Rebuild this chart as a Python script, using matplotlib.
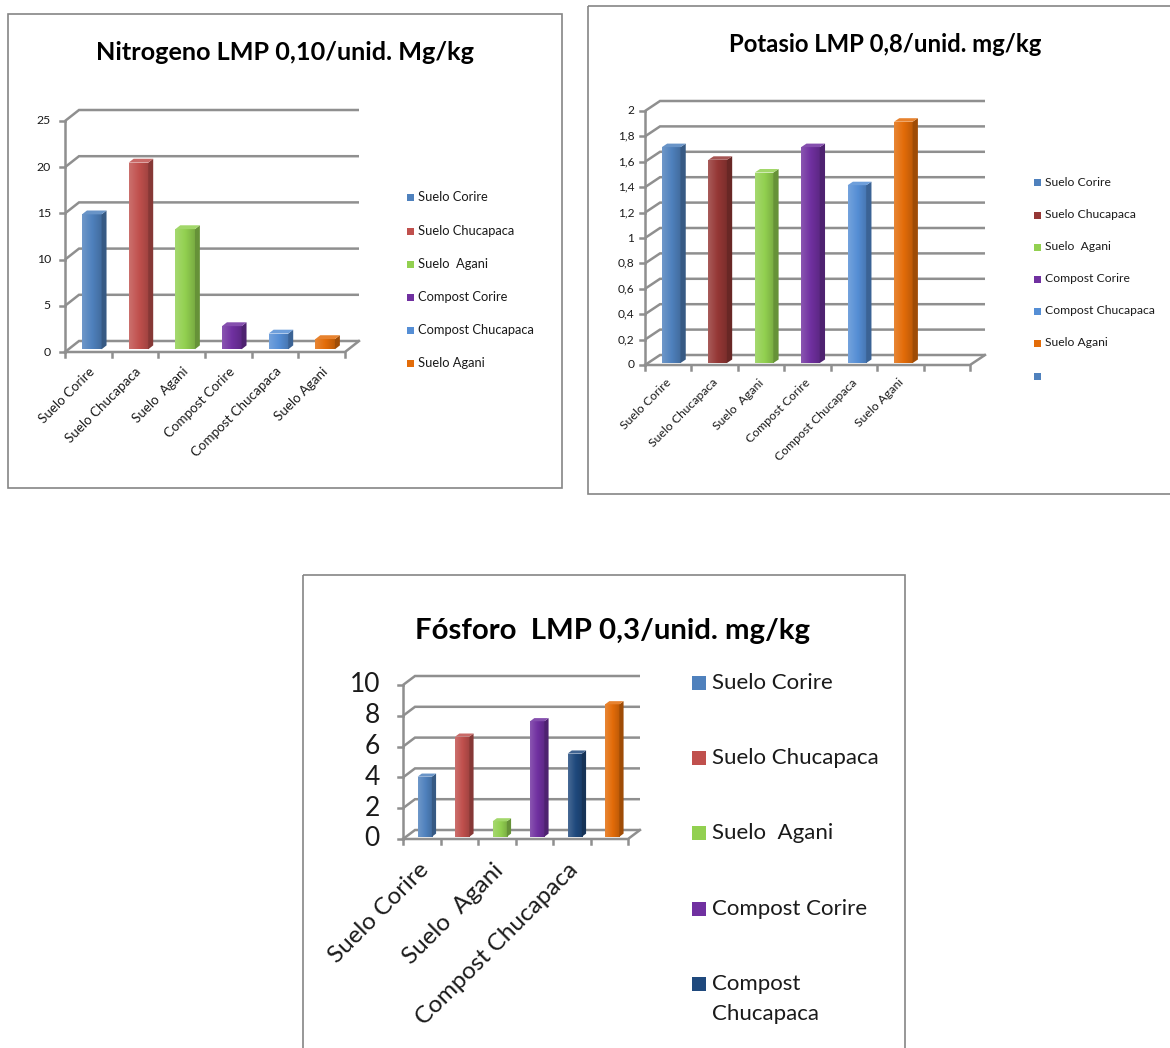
import matplotlib
matplotlib.use("Agg")
import matplotlib.pyplot as plt
from matplotlib.patches import Polygon, Rectangle
from matplotlib.colors import to_rgb
import numpy as np

plt.rcParams['font.family'] = ['Lato', 'DejaVu Sans']

# ---------------- data ----------------
categories = ["Suelo Corire", "Suelo Chucapaca", "Suelo  Agani",
              "Compost Corire", "Compost Chucapaca", "Suelo Agani"]

nitrogeno = [14.6, 20.2, 13.0, 2.5, 1.7, 1.1]
potasio = [1.7, 1.6, 1.5, 1.7, 1.4, 1.9]
fosforo = [3.9, 6.5, 1.0, 7.5, 5.4, 8.6]

n_ticks = [0, 5, 10, 15, 20, 25]
n_tick_labels = ["0", "5", "10", "15", "20", "25"]
k_ticks = [0, 0.2, 0.4, 0.6, 0.8, 1.0, 1.2, 1.4, 1.6, 1.8, 2.0]
k_tick_labels = ["0", "0,2", "0,4", "0,6", "0,8", "1", "1,2", "1,4", "1,6", "1,8", "2"]
p_ticks = [0, 2, 4, 6, 8, 10]
p_tick_labels = ["0", "2", "4", "6", "8", "10"]

n_colors = ['#4F81BD', '#C0504D', '#92D050', '#7030A0', '#558ED5', '#E36C09']
k_colors = ['#4F81BD', '#953735', '#92D050', '#7030A0', '#558ED5', '#E36C09', '#4F81BD']
p_colors = ['#4F81BD', '#C0504D', '#92D050', '#7030A0', '#1F497D', '#E36C09']

k_legend = categories + [""]
p_legend = ["Suelo Corire", "Suelo Chucapaca", "Suelo  Agani",
            "Compost Corire", "Compost\nChucapaca"]

titles = ["Nitrogeno LMP 0,10/unid. Mg/kg",
          "Potasio LMP 0,8/unid. mg/kg",
          "Fósforo  LMP 0,3/unid. mg/kg"]

# ---------------- figure ----------------
W, H = 1170, 1048
fig = plt.figure(figsize=(W / 100, H / 100), dpi=100)

ov = fig.add_axes([0, 0, 1, 1], zorder=0)
ov.set_xlim(0, W)
ov.set_ylim(H, 0)
ov.axis('off')

GRID = '#8F8F8F'
BORDER = '#858585'
TXT = '#1a1a1a'


def shade(c, f):
    r, g, b = to_rgb(c)
    if f < 1:
        return (r * f, g * f, b * f)
    t = f - 1
    return (r + (1 - r) * t, g + (1 - g) * t, b + (1 - b) * t)


def panel(box, x0, cw, y0, vs, dxp, dyp, ncat, values, colors, ticks, tick_labels,
          tick_fs, tick_pad, cat_labels, cat_fs, cat_off, bar_w=0.42, z0=0.25, dz=0.35):
    L, T, R, B = box
    ax = fig.add_axes([L / W, 1 - B / H, (R - L) / W, (B - T) / H], zorder=1)
    ax.set_xlim((L - x0) / cw, (R - x0) / cw)
    ax.set_ylim((y0 - B) / vs, (y0 - T) / vs)
    ax.axis('off')
    DX, DY = dxp / cw, dyp / vs
    vmax = ticks[-1]
    lw = 1.8
    # back wall gridlines with their side-wall diagonals
    for v in ticks:
        ax.plot([0, DX, ncat + DX], [v, v + DY, v + DY], color=GRID, lw=lw,
                solid_joinstyle='miter', solid_capstyle='butt', zorder=1)
    # value axis and floor outline
    ax.plot([0, 0], [0, vmax], color=GRID, lw=lw, zorder=4)
    ax.plot([0, ncat, ncat + DX], [0, 0, DY], color=GRID, lw=lw,
            solid_joinstyle='miter', zorder=4)
    # tick marks
    tx, ty = 5 / cw, 5 / vs
    for v, lab in zip(ticks, tick_labels):
        ax.plot([-tx, 0], [v, v], color=GRID, lw=lw, zorder=4)
        ax.annotate(lab, xy=(-tx, v), xytext=(-tick_pad, 0), textcoords='offset points',
                    ha='right', va='center', fontsize=tick_fs, color=TXT)
    for i in range(ncat + 1):
        ax.plot([i, i], [0, -ty], color=GRID, lw=lw, zorder=4)
    # category labels
    for i, lab in enumerate(cat_labels):
        if not lab:
            continue
        ax.annotate(lab, xy=(i + 0.5, -ty), xytext=cat_off, textcoords='offset points',
                    rotation=45, rotation_mode='anchor', ha='right', va='top',
                    fontsize=cat_fs, color=TXT)
    # 3D columns
    for i, (v, c) in enumerate(zip(values, colors)):
        xl = i + 0.5 - bar_w / 2 + z0 * DX
        b = z0 * DY
        front = ax.bar(xl, v, width=bar_w, bottom=b, align='edge', color=c,
                       linewidth=0, zorder=3)[0]
        grad = np.linspace(0, 1, 64)
        prof = 1.18 - 0.35 * grad
        rgb = np.array([shade(c, p) for p in prof])[None, :, :]
        im = ax.imshow(rgb, extent=(xl, xl + bar_w, b, b + v), aspect='auto',
                       interpolation='bilinear', zorder=3.1)
        im.set_clip_path(front)
        sx, sy = dz * DX, dz * DY
        xr = xl + bar_w
        ax.add_patch(Polygon([(xr, b), (xr + sx, b + sy), (xr + sx, b + v + sy), (xr, b + v)],
                             closed=True, facecolor=shade(c, 0.7), edgecolor='none', zorder=3.2))
        ax.add_patch(Polygon([(xl, b + v), (xr, b + v), (xr + sx, b + v + sy), (xl + sx, b + v + sy)],
                             closed=True, facecolor=shade(c, 1.15), edgecolor='none', zorder=3.2))
    return ax


# panel borders
ov.add_patch(Rectangle((8, 14), 554, 474, fill=False, edgecolor=BORDER, lw=1.2))
ov.add_patch(Rectangle((588, 6), 600, 488, fill=False, edgecolor=BORDER, lw=1.2))
ov.add_patch(Rectangle((303, 575), 602, 500, fill=False, edgecolor=BORDER, lw=1.2))

# titles
ov.text(285, 53, titles[0], ha='center', va='center', fontsize=18.2, fontweight='bold')
ov.text(885, 45, titles[1], ha='center', va='center', fontsize=17.2, fontweight='bold')
ov.text(613, 631, titles[2], ha='center', va='center', fontsize=21.2, fontweight='bold')

# charts
panel((8, 14, 562, 488), 65, 280 / 6, 352, 231 / 25, 14, 11, 6, nitrogeno, n_colors,
      n_ticks, n_tick_labels, 8.8, 6.5, categories, 9.6, (0, -6))
panel((588, 6, 1170, 494), 645, 325 / 7, 365, 254 / 2, 15, 10, 7, potasio, k_colors,
      k_ticks, k_tick_labels, 8.6, 4, categories, 8.8, (-2, -5), bar_w=0.4, z0=0.2)
panel((303, 575, 905, 1048), 403, 225 / 6, 839, 154 / 10, 12, 9, 6, fosforo, p_colors,
      p_ticks, p_tick_labels, 19, 13, [categories[0], "", categories[2], "", categories[4], ""],
      17.5, (-3, -11), bar_w=0.38)


# legends
def legend(x_sq, sq, x_txt, ys, labels, colors, fs, line_gap=None):
    for y, lab, c in zip(ys, labels, colors):
        ov.add_patch(Rectangle((x_sq, y - sq / 2), sq, sq, facecolor=c, edgecolor='none'))
        if not lab:
            continue
        for k, part in enumerate(lab.split("\n")):
            ov.text(x_txt, y + k * (line_gap or 0), part, ha='left', va='center',
                    fontsize=fs, color=TXT)


legend(407, 7, 418, [197, 231, 264, 297, 330, 363], categories, n_colors, 9.3)
legend(1034, 7, 1045, [182, 215, 247, 279, 311, 343, 376], k_legend, k_colors, 8.7)
legend(692, 14, 712, [683, 758, 833, 909, 984], p_legend, p_colors, 16, line_gap=30)

fig.savefig("out.png", dpi=100)
